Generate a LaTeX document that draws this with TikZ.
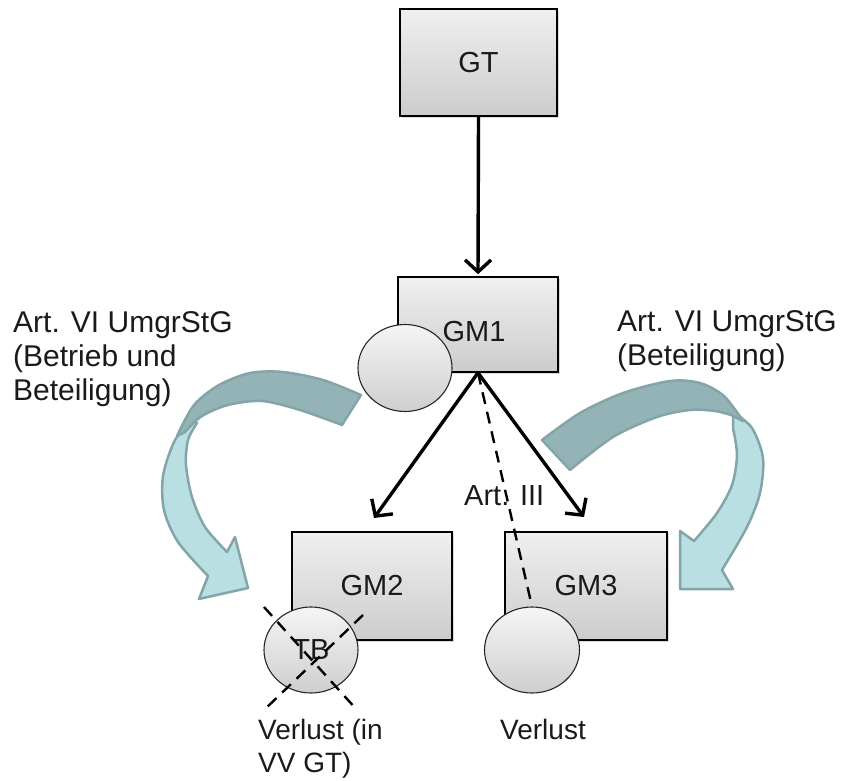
\documentclass[tikz,border=0pt]{standalone}
\usepackage{fontspec}
\setmainfont{Liberation Sans}
\usetikzlibrary{arrows.meta,shadows,shapes.geometric}
\definecolor{arrdark}{HTML}{93B3B6}
\definecolor{arrlight}{HTML}{B9DFE3}
\definecolor{arrline}{HTML}{83A5A8}
\definecolor{txt}{HTML}{1A1A1A}
\begin{document}
\begin{tikzpicture}[x=1pt,y=-1pt,
  box/.style={draw=black, line width=1.6pt, top color=gray!12, bottom color=gray!40,
    inner sep=0pt, text=txt, font=\fontsize{29}{34}\selectfont,
    drop shadow={shadow xshift=2pt, shadow yshift=-2pt, opacity=0.3}},
  disc/.style={ellipse, draw=black!85, line width=1.1pt, top color=gray!8, bottom color=gray!38,
    inner sep=0pt, text=txt, font=\fontsize{29}{34}\selectfont},
  conn/.style={line width=3.4pt, -{Straight Barb[length=12pt,width=26pt]}},
  dashline/.style={line width=2.4pt, dash pattern=on 12pt off 8pt},
  lbl/.style={inner sep=0pt, align=left, text=txt, font=\fontsize{30}{34}\selectfont},
  smalllbl/.style={inner sep=0pt, align=left, text=txt, font=\fontsize{28}{33}\selectfont},
  curvdark/.style={fill=arrdark, draw=arrline, line width=2.5pt, line join=round},
  curvlight/.style={fill=arrlight, draw=arrline, line width=2.5pt, line join=round}]
\useasboundingbox (0,0) rectangle (841,780);

% boxes
\node[box, minimum width=157pt, minimum height=107pt] (gt) at (478.5,62.5) {GT};
\node[box, minimum width=160pt, minimum height=95pt] (gm1) at (478,324.5) {};
\node[inner sep=0pt, text=txt, font=\fontsize{29}{34}\selectfont] (gm1t) at (474,332) {GM1};
\node[box, minimum width=160pt, minimum height=108pt] (gm2) at (372,586) {GM2};
\node[box, minimum width=162pt, minimum height=108pt] (gm3) at (586,586) {GM3};

% discs
\node[disc, minimum width=94pt, minimum height=87pt] (c1) at (405,368) {};
\node[disc, minimum width=94pt, minimum height=86pt] (tb) at (311,650) {TB};
\node[disc, minimum width=95pt, minimum height=86pt] (c3) at (532,650) {};

% connectors
\coordinate (t2) at (374,518);
\coordinate (t3) at (584,517);
\draw[conn, shorten >=2pt] (gt.south) -- (gm1.north);
\draw[conn] (gm1.south) -- (t2);
\draw[conn] (gm1.south) -- (t3);
\draw[dashline] (gm1.south) -- (c3.north);

% crossed-out TB
\coordinate (x1) at (264,607);
\coordinate (x2) at (357,710);
\coordinate (x3) at (363,615);
\coordinate (x4) at (264,710);
\draw[dashline] (x1) -- (x2);
\draw[dashline] (x3) -- (x4);

% left curved arrow
\filldraw[curvlight] plot[smooth] coordinates {(190,420) (174,442) (163,476) (164,510) (178,542) (208,576)}
  -- (199,599) -- (248,588) -- (235,537) -- (227,552)
  -- plot[smooth] coordinates {(227,552) (205,527) (192,497) (186,465) (188,440) (197,423)} -- cycle;
\filldraw[curvdark] plot[smooth] coordinates {(361,395) (323,380) (283,372) (250,373) (219,385) (194,405) (177,436)}
  -- plot[smooth] coordinates {(185,432) (202,416) (228,405) (262,401) (300,410) (342,425)} -- cycle;

% right curved arrow
\filldraw[curvlight] plot[smooth] coordinates {(733,412) (752,428) (763,458) (760,493) (747,527) (722,570)}
  -- (733,589) -- (680,589) -- (680,531) -- (694,541)
  -- plot[smooth] coordinates {(694,541) (717,513) (732,485) (737,455) (733,428)} -- cycle;
\filldraw[curvdark] plot[smooth] coordinates {(542,440) (580,413) (623,393) (670,381) (700,383) (724,396) (743,421)}
  -- plot[smooth] coordinates {(731,415) (715,411) (690,410) (657,417) (613,437) (570,470)} -- cycle;

% labels
\node[lbl, anchor=north west] (l1) at (13,311) {Art. VI UmgrStG\\(Betrieb und\\Beteiligung)};
\node[lbl, anchor=north west] (l2) at (617,310) {Art. VI UmgrStG\\(Beteiligung)};
\node[inner sep=0pt, text=txt, font=\fontsize{29}{34}\selectfont, anchor=base west] (l3) at (464,505) {Art. III};
\node[smalllbl, anchor=north west] (l4) at (258,719) {Verlust (in\\VV GT)};
\node[smalllbl, anchor=north west] (l5) at (500,719) {Verlust};
\end{tikzpicture}
\end{document}
